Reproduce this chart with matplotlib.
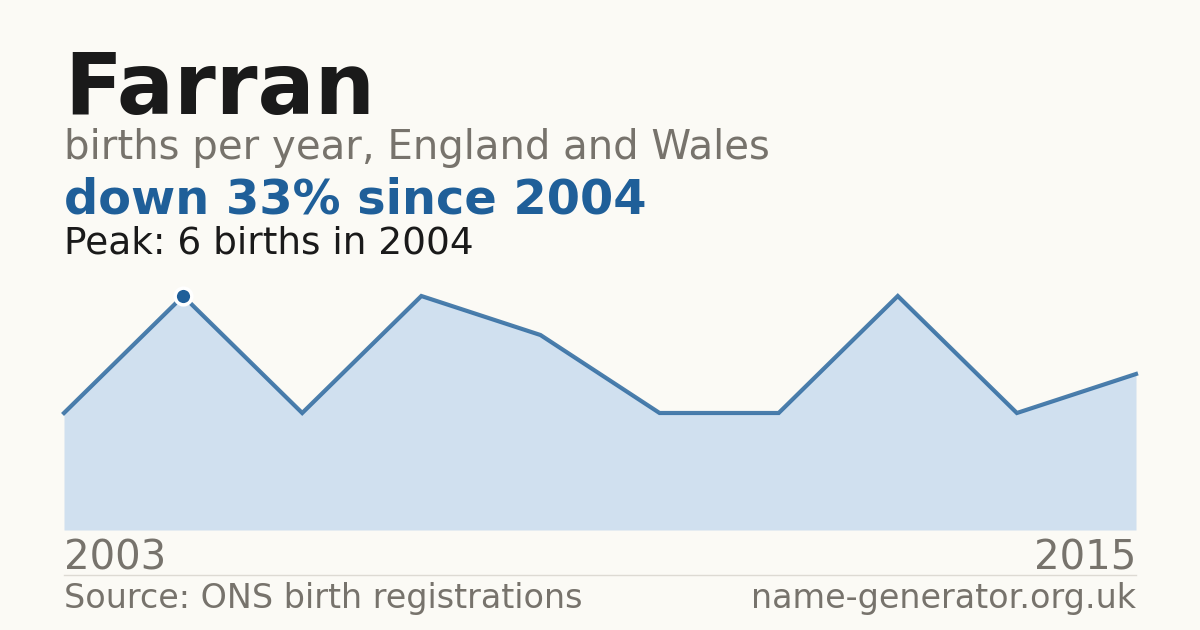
import matplotlib
matplotlib.use("Agg")
import matplotlib.pyplot as plt
import numpy as np

# data
years = [2003, 2004, 2005, 2006, 2007, 2008, 2009, 2010, 2011, 2015]
births = [3, 6, 3, 6, 5, 3, 3, 6, 3, 4]
name = "Farran"
subtitle = "births per year, England and Wales"
headline = "down 33% since 2004"
peak_note = "Peak: 6 births in 2004"
source = "Source: ONS birth registrations"
site = "name-generator.org.uk"

bg = "#fbfaf5"
blue = "#1f5f99"
fill = "#d0e0ef"
grey = "#77736c"

W, H = 1200, 630
fig = plt.figure(figsize=(W / 100, H / 100), dpi=100, facecolor=bg)

def px(x, y):
    # pixel coords (top-left origin) -> figure fraction
    return x / W, 1 - y / H

# chart area: x 64..1136, y 296 (max) .. 530 (zero)
ax = fig.add_axes([64 / W, 1 - 530 / H, (1136 - 64) / W, (530 - 296) / H])
ax.set_facecolor(bg)
x = np.arange(len(births))
ax.fill_between(x, births, 0, color=fill, lw=0)
ax.plot(x, births, color=blue, lw=3, alpha=0.8, solid_joinstyle="miter", clip_on=False)
peak = int(np.argmax(births))
ax.plot(x[peak], births[peak], "o", ms=12, color=blue, mec="white", mew=2.5,
        clip_on=False, zorder=5)
ax.set_xlim(0, len(births) - 1)
ax.set_ylim(0, max(births))
ax.axis("off")

# titles
fig.text(*px(64, 114), name, fontsize=61, fontweight="bold", color="#1a1a1a", va="baseline")
fig.text(*px(64, 159), subtitle, fontsize=29, color=grey, va="baseline")
fig.text(*px(64, 214), headline, fontsize=34.5, fontweight="bold", color=blue, va="baseline")
fig.text(*px(64, 253), peak_note, fontsize=27, color="#1a1a1a", va="baseline")

# year labels
fig.text(*px(64, 569), str(years[0]), fontsize=29, color=grey, va="baseline")
fig.text(*px(1136, 569), str(years[-1]), fontsize=29, color=grey, va="baseline", ha="right")

# separator
fig.add_artist(plt.Line2D([64 / W, 1136 / W], [1 - 575 / H] * 2, color="#dddad3", lw=1))

fig.text(*px(64, 608), source, fontsize=24, color=grey, va="baseline")
fig.text(*px(1136, 608), site, fontsize=24, color=grey, va="baseline", ha="right")

fig.savefig("out.png", dpi=100, facecolor=bg)
